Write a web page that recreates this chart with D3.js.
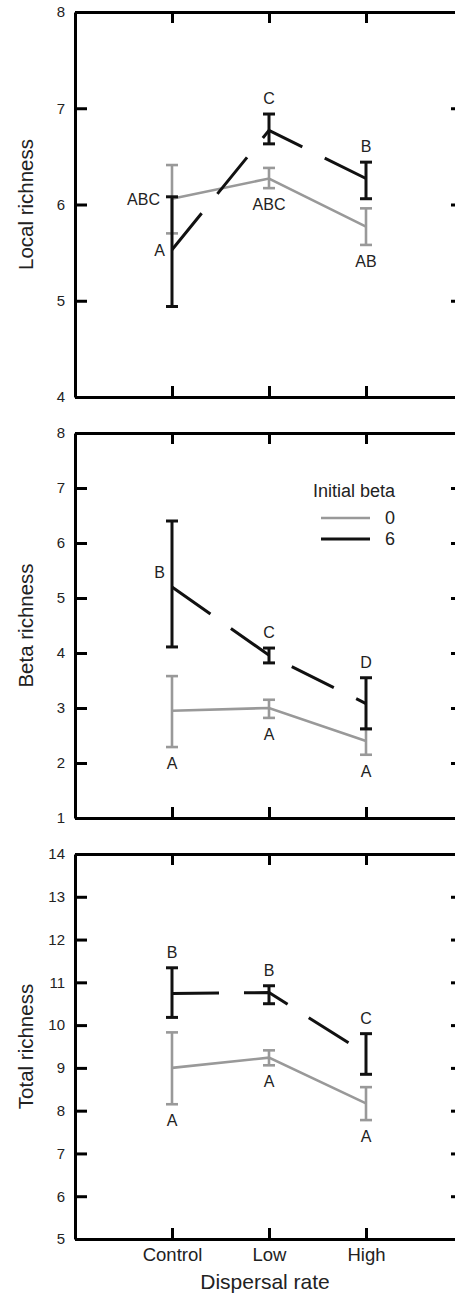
<!DOCTYPE html>
<html>
<head>
<meta charset="utf-8">
<script src="https://cdn.jsdelivr.net/npm/d3@7"></script>
<style>
  body { margin: 0; background: #fff; }
  svg { display: block; font-family: "Liberation Sans", Arial, sans-serif; }
</style>
</head>
<body>
<div class="chart"></div>
<script>
// categories and groups
const dispersal = ["Control", "Low", "High"];
const betaGroups = ["0", "6"];

// Local richness (mean, low, high) per dispersal rate
const localMean0 = [6.06, 6.27, 5.77];
const localLo0 = [5.70, 6.17, 5.58];
const localHi0 = [6.41, 6.38, 5.96];
const localMean6 = [5.53, 6.77, 6.27];
const localLo6 = [4.94, 6.63, 6.06];
const localHi6 = [6.08, 6.94, 6.44];
const localLetters0 = ["ABC", "ABC", "AB"];
const localLetters6 = ["A", "C", "B"];
const localWhere0 = ["left", "below", "below"];
const localWhere6 = ["left", "above", "above"];
const localTicks = [4, 5, 6, 7, 8];

// Beta richness
const betaMean0 = [2.95, 3.0, 2.40];
const betaLo0 = [2.29, 2.82, 2.15];
const betaHi0 = [3.58, 3.15, 2.62];
const betaMean6 = [5.20, 3.96, 3.08];
const betaLo6 = [4.11, 3.82, 2.62];
const betaHi6 = [6.40, 4.09, 3.55];
const betaLetters0 = ["A", "A", "A"];
const betaLetters6 = ["B", "C", "D"];
const betaWhere0 = ["below", "below", "below"];
const betaWhere6 = ["upleft", "above", "above"];
const betaTicks = [1, 2, 3, 4, 5, 6, 7, 8];

// Total richness
const totalMean0 = [9.0, 9.24, 8.17];
const totalLo0 = [8.15, 9.06, 7.78];
const totalHi0 = [9.83, 9.41, 8.55];
const totalMean6 = [10.74, 10.76, 9.33];
const totalLo6 = [10.18, 10.50, 8.85];
const totalHi6 = [11.34, 10.92, 9.80];
const totalLetters0 = ["A", "A", "A"];
const totalLetters6 = ["B", "B", "C"];
const totalWhere0 = ["below", "below", "below"];
const totalWhere6 = ["above", "above", "above"];
const totalTicks = [5, 6, 7, 8, 9, 10, 11, 12, 13, 14];

const w = 455;
const h = 1294;
const left = 75;
const right = 463;
const panelH = 385;
const panelTops = [12, 433, 854];

const build = (mean, lo, hi, letters, where) =>
  dispersal.map((c, i) => ({ cat: c, mean: mean[i], lo: lo[i], hi: hi[i], letter: letters[i], where: where[i] }));

const panels = [
  { label: "Local richness", ticks: localTicks,
    g0: build(localMean0, localLo0, localHi0, localLetters0, localWhere0),
    g6: build(localMean6, localLo6, localHi6, localLetters6, localWhere6) },
  { label: "Beta richness", ticks: betaTicks,
    g0: build(betaMean0, betaLo0, betaHi0, betaLetters0, betaWhere0),
    g6: build(betaMean6, betaLo6, betaHi6, betaLetters6, betaWhere6) },
  { label: "Total richness", ticks: totalTicks,
    g0: build(totalMean0, totalLo0, totalHi0, totalLetters0, totalWhere0),
    g6: build(totalMean6, totalLo6, totalHi6, totalLetters6, totalWhere6) }
];

const svg = d3.select(".chart")
  .append("svg")
  .attr("width", w)
  .attr("height", h);

const xScale = d3.scalePoint()
  .domain(dispersal)
  .range([left, right])
  .padding(1);

const grey = "#999";
const black = "#111";

panels.forEach((p, pi) => {
  const top = panelTops[pi];
  const bottom = top + panelH;
  const yScale = d3.scaleLinear()
    .domain(d3.extent(p.ticks))
    .range([bottom, top]);

  const g = svg.append("g");

  // frame axes, ticks pointing in
  const styleAxis = (sel) => {
    sel.select(".domain").attr("stroke", "#000").attr("stroke-width", 3);
    sel.selectAll(".tick line").attr("stroke", "#000").attr("stroke-width", 3);
  };

  g.append("g")
    .attr("transform", "translate(" + left + ",0)")
    .call(d3.axisLeft(yScale).tickValues(p.ticks).tickFormat(d3.format("d"))
      .tickSizeInner(-12).tickSizeOuter(0).tickPadding(10))
    .call(styleAxis)
    .call(a => a.selectAll("text").attr("font-size", 15).attr("fill", "#222")
      .attr("font-family", "Liberation Sans, Arial, sans-serif"));

  g.append("g")
    .attr("transform", "translate(" + right + ",0)")
    .call(d3.axisRight(yScale).tickValues(p.ticks).tickFormat("")
      .tickSizeInner(-12).tickSizeOuter(0))
    .call(styleAxis);

  g.append("g")
    .attr("transform", "translate(0," + top + ")")
    .call(d3.axisTop(xScale).tickFormat("").tickSizeInner(-11).tickSizeOuter(0))
    .call(styleAxis);

  const xb = g.append("g")
    .attr("transform", "translate(0," + bottom + ")")
    .call(d3.axisBottom(xScale).tickSizeInner(-11).tickSizeOuter(0).tickPadding(9))
    .call(styleAxis);
  if (pi === panels.length - 1) {
    xb.selectAll("text").attr("font-size", 18.5).attr("fill", "#222")
      .attr("font-family", "Liberation Sans, Arial, sans-serif");
  } else {
    xb.selectAll("text").remove();
  }

  // y label
  g.append("text")
    .attr("transform", "translate(33," + (top + bottom) / 2 + ") rotate(-90)")
    .attr("text-anchor", "middle")
    .attr("font-size", 20.5)
    .attr("fill", "#222")
    .text(p.label);

  const line = d3.line()
    .x(d => xScale(d.cat))
    .y(d => yScale(d.mean));

  const drawGroup = (data, colour, width, dash) => {
    g.append("path")
      .datum(data)
      .attr("fill", "none")
      .attr("stroke", colour)
      .attr("stroke-width", width)
      .attr("stroke-dasharray", dash)
      .attr("d", line);

    const bars = g.append("g")
      .selectAll("g")
      .data(data)
      .enter()
      .append("g")
      .attr("stroke", colour)
      .attr("stroke-width", width);
    bars.append("line")
      .attr("x1", d => xScale(d.cat)).attr("x2", d => xScale(d.cat))
      .attr("y1", d => yScale(d.lo)).attr("y2", d => yScale(d.hi));
    bars.append("line")
      .attr("x1", d => xScale(d.cat) - 6).attr("x2", d => xScale(d.cat) + 6)
      .attr("y1", d => yScale(d.lo)).attr("y2", d => yScale(d.lo));
    bars.append("line")
      .attr("x1", d => xScale(d.cat) - 6).attr("x2", d => xScale(d.cat) + 6)
      .attr("y1", d => yScale(d.hi)).attr("y2", d => yScale(d.hi));
  };

  drawGroup(p.g0, grey, 2.6, null);
  drawGroup(p.g6, black, 3, "47,25");

  // significance letters
  const letterData = p.g0.concat(p.g6);
  g.append("g")
    .selectAll("text")
    .data(letterData)
    .enter()
    .append("text")
    .attr("font-size", 16)
    .attr("fill", "#222")
    .attr("text-anchor", d => (d.where === "left" || d.where === "upleft") ? "end" : "middle")
    .attr("x", d => {
      if (d.where === "left") return xScale(d.cat) - (d.letter.length > 1 ? 12 : 7);
      if (d.where === "upleft") return xScale(d.cat) - 7;
      return xScale(d.cat);
    })
    .attr("y", d => {
      if (d.where === "above") return yScale(d.hi) - 10;
      if (d.where === "below") return yScale(d.lo) + 22;
      if (d.where === "upleft") return yScale(d.mean) - 9;
      return yScale(d.mean) + 6;
    })
    .text(d => d.letter);

  // legend in the middle panel
  if (pi === 1) {
    const lg = g.append("g");
    lg.append("text")
      .attr("x", 395).attr("y", 497)
      .attr("text-anchor", "end")
      .attr("font-size", 18)
      .attr("fill", "#222")
      .text("Initial beta");
    const items = [{ k: betaGroups[0], c: grey, sw: 2.6 }, { k: betaGroups[1], c: black, sw: 3 }];
    items.forEach((it, i) => {
      const yy = 518 + i * 21;
      lg.append("line")
        .attr("x1", 321).attr("x2", 370)
        .attr("y1", yy).attr("y2", yy)
        .attr("stroke", it.c).attr("stroke-width", it.sw);
      lg.append("text")
        .attr("x", 385).attr("y", yy + 6)
        .attr("font-size", 18)
        .attr("fill", "#222")
        .text(it.k);
    });
  }
});

// x label
svg.append("text")
  .attr("x", 265)
  .attr("y", 1289)
  .attr("text-anchor", "middle")
  .attr("font-size", 21)
  .attr("fill", "#222")
  .text("Dispersal rate");
</script>
</body>
</html>
